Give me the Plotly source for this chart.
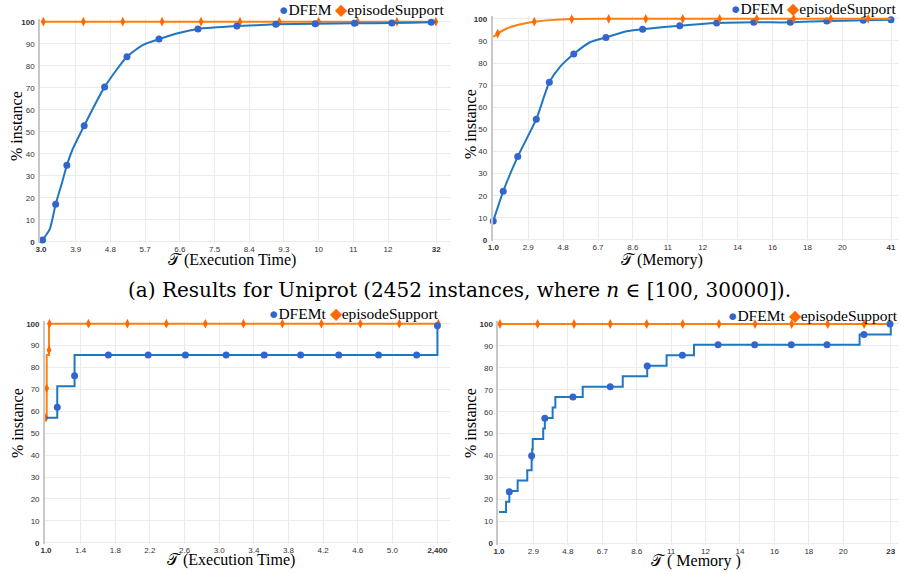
import plotly.graph_objects as go

W, H = 901, 574

# ---------------- data (display-scale tau, % instance) ----------------
# (a) Uniprot – Execution time
tl_dfem_line_x = [3.0, 3.04, 3.23, 3.38, 3.54, 3.67, 3.82, 4.12, 4.65, 5.23, 5.65, 6.06, 6.6, 7.07, 8.08, 9.09, 10.11, 11.13, 12.10, 13.12, 13.25]
tl_dfem_line_y = [0.3, 0.9, 6.0, 17.1, 26.6, 34.8, 42.1, 52.8, 70.4, 84.1, 89.5, 92.1, 95.0, 96.7, 98.0, 98.8, 99.1, 99.3, 99.4, 99.7, 99.8]
tl_dfem_mk_x = [3.04, 3.38, 3.67, 4.12, 4.65, 5.23, 6.06, 7.07, 8.08, 9.09, 10.11, 11.13, 12.10, 13.12]
tl_dfem_mk_y = [0.9, 17.1, 34.8, 52.8, 70.4, 84.1, 92.1, 96.7, 98.0, 98.8, 99.1, 99.3, 99.4, 99.7]
tl_ep_line_x = [3.0, 13.25]
tl_ep_line_y = [100, 100]
tl_ep_mk_x = [3.06, 4.10, 5.12, 6.14, 7.15, 8.16, 9.18, 10.20, 11.21, 12.23, 13.24]
tl_ep_mk_y = [100] * 11
tl_tickvals = [3.0, 3.9, 4.8, 5.7, 6.6, 7.5, 8.4, 9.3, 10.2, 11.1, 12.0, 13.25]
tl_ticktext = ["<b>3.0</b>", "3.9", "4.8", "5.7", "6.6", "7.5", "8.4", "9.3", "10", "11", "12", "<b>32</b>"]

# (a) Uniprot – Memory
tr_dfem_line_x = [1.0, 1.54, 2.33, 3.34, 4.05, 4.63, 5.38, 6.26, 7.13, 8.26, 9.13, 11.15, 13.16, 15.18, 17.17, 19.15, 21.14, 22.65]
tr_dfem_line_y = [8.6, 22.0, 37.7, 54.6, 71.3, 78.3, 84.1, 89.4, 91.6, 94.4, 95.3, 96.9, 98.1, 98.4, 98.4, 99.0, 99.3, 99.6]
tr_dfem_mk_x = [1.0, 1.54, 2.33, 3.34, 4.05, 5.38, 7.13, 9.13, 11.15, 13.16, 15.18, 17.17, 19.15, 21.14, 22.65]
tr_dfem_mk_y = [8.6, 22.0, 37.7, 54.6, 71.3, 84.1, 91.6, 95.3, 96.9, 98.1, 98.4, 98.4, 99.0, 99.3, 99.6]
tr_ep_line_x = [1.0, 1.24, 1.73, 2.27, 2.82, 3.23, 4.09, 5.27, 7.28, 22.65]
tr_ep_line_y = [91.8, 93.3, 95.6, 97.1, 98.1, 98.7, 99.4, 99.9, 100, 100]
tr_ep_mk_x = [1.24, 3.23, 5.27, 7.28, 9.30, 11.31, 13.32, 15.34, 17.35, 19.37, 21.41]
tr_ep_mk_y = [93.3, 98.7, 99.9, 100, 100, 100, 100, 100, 100, 100, 100]
mem_tickvals_top = [1.0, 2.9, 4.8, 6.7, 8.6, 10.5, 12.4, 14.3, 16.2, 18.1, 20.0, 22.65]
tr_ticktext = ["<b>1.0</b>", "2.9", "4.8", "6.7", "8.6", "11", "12", "14", "16", "18", "20", "<b>41</b>"]

# second dataset – Execution time (step profiles)
bl_dfemt_x = [1.0, 1.13, 1.13, 1.13, 1.33, 1.33, 1.33, 5.52]
bl_dfemt_y = [57.1, 61.9, 66.7, 71.4, 76.2, 81.0, 85.7, 100]
bl_dfemt_mk_x = [1.13, 1.33, 1.72, 2.18, 2.61, 3.08, 3.52, 3.94, 4.38, 4.84, 5.28, 5.52]
bl_dfemt_mk_y = [61.9, 76.2, 85.7, 85.7, 85.7, 85.7, 85.7, 85.7, 85.7, 85.7, 85.7, 99.1]
bl_ep_x = [1.0, 1.008, 1.035, 5.53]
bl_ep_y = [57.1, 85.7, 100, 100]
bl_ep_mk_x = [1.0, 1.008, 1.035, 1.04, 1.49, 1.94, 2.39, 2.84, 3.28, 3.73, 4.18, 4.63, 5.08, 5.53]
bl_ep_mk_y = [57.1, 70.5, 88.0, 100, 100, 100, 100, 100, 100, 100, 100, 100, 100, 100]
bl_tickvals = [1.0, 1.4, 1.8, 2.2, 2.6, 3.0, 3.4, 3.8, 4.2, 4.6, 5.0, 5.52]
bl_ticktext = ["<b>1.0</b>", "1.4", "1.8", "2.2", "2.6", "3.0", "3.4", "3.8", "4.2", "4.6", "5.0", "<b>2,400</b>"]

# second dataset – Memory (step profiles)
br_dfemt_x = [1.0, 1.39, 1.57, 2.03, 2.56, 2.80, 2.83, 2.86, 3.44, 3.53, 3.96, 4.11, 5.62, 7.83, 9.18, 10.25, 11.76, 20.9, 22.62]
br_dfemt_y = [14.3, 19.0, 23.8, 28.6, 33.3, 38.1, 42.9, 47.6, 52.4, 57.1, 61.9, 66.7, 71.4, 76.2, 81.0, 85.7, 90.5, 95.2, 100]
br_dfemt_mk_x = [1.57, 2.80, 3.53, 5.08, 7.14, 9.18, 11.12, 13.09, 15.11, 17.13, 19.10, 21.14, 22.58]
br_dfemt_mk_y = [23.5, 39.9, 57.0, 66.7, 71.4, 80.8, 85.7, 90.5, 90.5, 90.5, 90.5, 95.2, 100]
br_ep_x = [1.0, 22.62]
br_ep_y = [100, 100]
br_ep_mk_x = [1.05, 3.13, 5.14, 7.14, 9.15, 11.14, 13.14, 15.13, 17.15, 19.14, 21.15]
br_ep_mk_y = [100] * 11
mem_tickvals_bot = [1.0, 2.9, 4.8, 6.7, 8.6, 10.5, 12.4, 14.3, 16.2, 18.1, 20.0, 22.62]
br_ticktext = ["<b>1.0</b>", "2.9", "4.8", "6.7", "8.6", "11", "12", "14", "16", "18", "20", "<b>23</b>"]

y_tickvals = [0, 10, 20, 30, 40, 50, 60, 70, 80, 90, 100]
y_ticktext = ["<b>0</b>", "10", "20", "30", "40", "50", "60", "70", "80", "90", "<b>100</b>"]

# ---------------- styling ----------------
BLUE_LINE = "#1f77c0"
BLUE_MK = "#3366cc"
ORANGE_LINE = "#ff7f0e"
ORANGE_MK = "#ff6a00"
GRID = "#ebebeb"
AXIS = "#c8c8c8"
TICKFONT = dict(family="Liberation Sans, Arial, sans-serif", size=8, color="#333333")
SERIF = "Liberation Serif, Times New Roman, serif"


def fx(px):
    return px / W


def fy(py):
    return 1 - py / H


def dom_x(p0, v0, k, r0, r1):
    return [fx(p0 + (r0 - v0) * k), fx(p0 + (r1 - v0) * k)]


def dom_y(p0, k, r0, r1):
    return [fy(p0 - r0 * k), fy(p0 - r1 * k)]


panels = [
    dict(px=(41, 3.0, 38.56), xr=[2.98, 13.62], py=(242, 2.203), tv=tl_tickvals, tt=tl_ticktext),
    dict(px=(493.3, 1.0, 18.37), xr=[0.97, 23.08], py=(240, 2.212), tv=mem_tickvals_top, tt=tr_ticktext),
    dict(px=(46, 1.0, 86.6), xr=[0.99, 5.66], py=(542.7, 2.19), tv=bl_tickvals, tt=bl_ticktext),
    dict(px=(499, 1.0, 18.12), xr=[0.97, 23.07], py=(543.3, 2.193), tv=mem_tickvals_bot, tt=br_ticktext),
]
YR = [-0.6, 101.2]

fig = go.Figure()
layout = dict(
    width=W, height=H, margin=dict(l=0, r=0, t=0, b=0, pad=0, autoexpand=False),
    paper_bgcolor="white", plot_bgcolor="white", showlegend=False,
    font=dict(family=SERIF, color="black"),
)

for i, p in enumerate(panels):
    n = "" if i == 0 else str(i + 1)
    layout["xaxis" + n] = dict(
        domain=dom_x(*p["px"], *p["xr"]), range=p["xr"], anchor="y" + n,
        tickmode="array", tickvals=p["tv"], ticktext=p["tt"], tickfont=TICKFONT,
        showgrid=True, gridcolor=GRID, gridwidth=1, zeroline=False, showline=False,
        ticks="", ticklabelstandoff=0, fixedrange=True, automargin=False,
    )
    layout["yaxis" + n] = dict(
        domain=dom_y(*p["py"], *YR), range=YR, anchor="x" + n,
        tickmode="array", tickvals=y_tickvals, ticktext=y_ticktext, tickfont=TICKFONT,
        showgrid=True, gridcolor=GRID, gridwidth=1, zeroline=False,
        showline=True, linecolor=AXIS, linewidth=2, ticks="", ticklabelstandoff=2,
        fixedrange=True, automargin=False,
    )


def add_series(idx, lx, ly, mx, my, line_color, mk_color, symbol, size, shape="linear"):
    n = "" if idx == 0 else str(idx + 1)
    fig.add_trace(go.Scatter(
        x=lx, y=ly, mode="lines", xaxis="x" + n, yaxis="y" + n,
        line=dict(color=line_color, width=2, shape=shape,
                  smoothing=0.6 if shape == "spline" else None),
        hoverinfo="skip", cliponaxis=False,
    ))
    fig.add_trace(go.Scatter(
        x=mx, y=my, mode="markers", xaxis="x" + n, yaxis="y" + n,
        marker=dict(color=mk_color, size=size, symbol=symbol, line=dict(width=0)),
        cliponaxis=False,
    ))


add_series(0, tl_ep_line_x, tl_ep_line_y, tl_ep_mk_x, tl_ep_mk_y, ORANGE_LINE, ORANGE_MK, "diamond-tall", 7)
add_series(0, tl_dfem_line_x, tl_dfem_line_y, tl_dfem_mk_x, tl_dfem_mk_y, BLUE_LINE, BLUE_MK, "circle", 7, "spline")
add_series(1, tr_dfem_line_x, tr_dfem_line_y, tr_dfem_mk_x, tr_dfem_mk_y, BLUE_LINE, BLUE_MK, "circle", 7, "spline")
add_series(1, tr_ep_line_x, tr_ep_line_y, tr_ep_mk_x, tr_ep_mk_y, ORANGE_LINE, ORANGE_MK, "diamond-tall", 7, "spline")
add_series(2, bl_ep_x, bl_ep_y, bl_ep_mk_x, bl_ep_mk_y, ORANGE_LINE, ORANGE_MK, "diamond-tall", 7, "hv")
add_series(2, bl_dfemt_x, bl_dfemt_y, bl_dfemt_mk_x, bl_dfemt_mk_y, BLUE_LINE, BLUE_MK, "circle", 7, "hv")
add_series(3, br_ep_x, br_ep_y, br_ep_mk_x, br_ep_mk_y, ORANGE_LINE, ORANGE_MK, "diamond-tall", 7)
add_series(3, br_dfemt_x, br_dfemt_y, br_dfemt_mk_x, br_dfemt_mk_y, BLUE_LINE, BLUE_MK, "circle", 7, "hv")

ann = []


def legend(xr, yc, name):
    txt = (f'<span style="color:{BLUE_MK}">●</span>{name} '
           f'<span style="color:{ORANGE_MK}">◆</span>episodeSupport')
    ann.append(dict(text=txt, x=fx(xr), y=fy(yc), xref="paper", yref="paper",
                    xanchor="right", yanchor="middle", showarrow=False,
                    font=dict(family=SERIF, size=15.5, color="black")))


legend(446, 10, "DFEM")
legend(898, 9, "DFEM")
legend(441, 313, "DFEMt")
legend(900, 315, "DFEMt")


def xtitle(xc, yc, label):
    ann.append(dict(text=f"𝒯 {label}", x=fx(xc), y=fy(yc), xref="paper", yref="paper",
                    xanchor="center", yanchor="middle", showarrow=False,
                    font=dict(family=SERIF, size=16, color="black")))


xtitle(232, 260, "(Execution Time)")
xtitle(662, 260, "(Memory)")
xtitle(231, 560, "(Execution Time)")
xtitle(696, 561, "( Memory )")


def ytitle(xc, yc):
    ann.append(dict(text="% instance", x=fx(xc), y=fy(yc), xref="paper", yref="paper",
                    xanchor="center", yanchor="middle", showarrow=False, textangle=-90,
                    font=dict(family=SERIF, size=16, color="black")))


ytitle(17, 126)
ytitle(470, 124)
ytitle(17, 423)
ytitle(470, 423)

ann.append(dict(text="(a) Results for Uniprot (2452 instances, where <i>n</i> ∈ [100, 30000]).",
                x=fx(459), y=fy(290), xref="paper", yref="paper",
                xanchor="center", yanchor="middle", showarrow=False,
                font=dict(family="DejaVu Serif, serif", size=20, color="black")))

layout["annotations"] = ann
fig.update_layout(**layout)
# remove the browser's default 8px body margin so the 901x574 figure fills the window
fig.write_html("out.html",
               config={"displayModeBar": False, "staticPlot": True},
               post_script="document.body.style.margin='0px';document.body.style.overflow='hidden';")
